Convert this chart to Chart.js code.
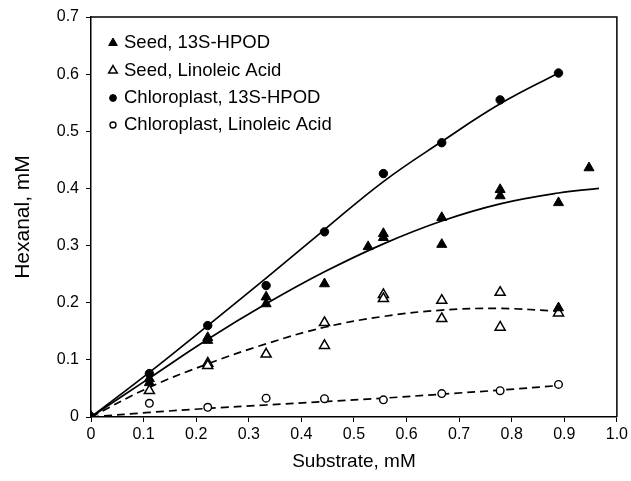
<!DOCTYPE html>
<html>
<head>
<meta charset="utf-8">
<script src="https://cdn.jsdelivr.net/npm/chart.js@4/dist/chart.umd.min.js"></script>
<style>
html,body{margin:0;padding:0;background:#fff;}
canvas{display:block;}
</style>
</head>
<body>
<canvas id="c" width="631" height="481"></canvas>
<script>
// ---- data ----
const seriesLabels = ["Seed, 13S-HPOD", "Seed, Linoleic Acid", "Chloroplast, 13S-HPOD", "Chloroplast, Linoleic Acid"];

const seedHpodX = [0, 0.111, 0.111, 0.222, 0.222, 0.333, 0.333, 0.444, 0.527, 0.556, 0.556, 0.667, 0.667, 0.778, 0.778, 0.889, 0.889, 0.947];
const seedHpodY = [0, 0.067, 0.060, 0.139, 0.134, 0.210, 0.198, 0.233, 0.298, 0.321, 0.314, 0.349, 0.302, 0.398, 0.387, 0.375, 0.191, 0.436];

const seedLaX = [0, 0.111, 0.222, 0.222, 0.333, 0.444, 0.444, 0.556, 0.556, 0.667, 0.667, 0.778, 0.778, 0.889];
const seedLaY = [0, 0.046, 0.094, 0.090, 0.110, 0.165, 0.125, 0.214, 0.207, 0.204, 0.172, 0.218, 0.157, 0.182];

const chloroHpodX = [0, 0.111, 0.222, 0.333, 0.444, 0.556, 0.667, 0.778, 0.889];
const chloroHpodY = [0, 0.076, 0.160, 0.230, 0.324, 0.426, 0.480, 0.555, 0.602];

const chloroLaX = [0, 0.111, 0.222, 0.333, 0.444, 0.556, 0.667, 0.778, 0.889];
const chloroLaY = [0, 0.024, 0.017, 0.033, 0.032, 0.030, 0.041, 0.046, 0.057];

// fitted curves
const chloroHpodFitX = [0, 0.111, 0.222, 0.333, 0.444, 0.556, 0.667, 0.778, 0.889];
const chloroHpodFitY = [0, 0.078, 0.160, 0.243, 0.328, 0.412, 0.482, 0.548, 0.602];

const seedHpodFitX = [0, 0.111, 0.222, 0.333, 0.444, 0.556, 0.667, 0.778, 0.889, 0.966];
const seedHpodFitY = [0, 0.068, 0.136, 0.198, 0.254, 0.303, 0.343, 0.373, 0.392, 0.400];

const seedLaFitX = [0, 0.111, 0.222, 0.333, 0.444, 0.556, 0.667, 0.778, 0.889];
const seedLaFitY = [0, 0.052, 0.093, 0.128, 0.157, 0.176, 0.187, 0.190, 0.185];

const chloroLaFitX = [0, 0.111, 0.222, 0.333, 0.444, 0.556, 0.667, 0.778, 0.889];
const chloroLaFitY = [0, 0.008, 0.015, 0.021, 0.027, 0.033, 0.040, 0.047, 0.055];

const xTicks = [0, 0.1, 0.2, 0.3, 0.4, 0.5, 0.6, 0.7, 0.8, 0.9, 1.0];
const yTicks = [0, 0.1, 0.2, 0.3, 0.4, 0.5, 0.6, 0.7];
const xTitle = "Substrate, mM";
const yTitle = "Hexanal, mM";

// ---- build ----
const zip = (xs, ys) => xs.map((x, i) => ({x: x, y: ys[i]}));
const FONT = "'Liberation Sans', Arial, Helvetica, sans-serif";

const markerStyles = [
  {pointStyle: 'triangle', radius: 5.8, fill: '#000', border: '#000', bw: 1},
  {pointStyle: 'triangle', radius: 5.8, fill: '#fff', border: '#000', bw: 1.5},
  {pointStyle: 'circle', radius: 4.2, fill: '#000', border: '#000', bw: 1},
  {pointStyle: 'circle', radius: 3.8, fill: '#fff', border: '#000', bw: 1.4}
];

function pts(idx, xs, ys) {
  const m = markerStyles[idx];
  return {
    type: 'scatter', label: seriesLabels[idx], data: zip(xs, ys),
    pointStyle: m.pointStyle, pointRadius: m.radius, pointBackgroundColor: m.fill,
    pointBorderColor: m.border, pointBorderWidth: m.bw, showLine: false, isMarker: true, mIdx: idx
  };
}
function fit(xs, ys, dashed) {
  return {
    type: 'line', data: zip(xs, ys), borderColor: '#000', borderWidth: 1.7,
    borderDash: dashed ? [8, 5] : [], pointRadius: 0, fill: false,
    tension: 0.4, isMarker: false
  };
}

const legendPlugin = {
  id: 'inLegend',
  afterDraw(chart) {
    const ctx = chart.ctx;
    const rows = [42, 69.5, 97, 124];
    ctx.save();
    ctx.font = '18.5px ' + FONT;
    ctx.fillStyle = '#000';
    ctx.textBaseline = 'middle';
    ctx.textAlign = 'left';
    chart.data.datasets.filter(d => d.isMarker).forEach(d => {
      const i = d.mIdx;
      const m = markerStyles[i];
      const y = rows[i];
      const x = 113;
      ctx.save();
      ctx.fillStyle = m.fill; ctx.strokeStyle = m.border; ctx.lineWidth = m.bw;
      Chart.helpers.drawPoint(ctx, {pointStyle: m.pointStyle, radius: m.pointStyle === 'circle' ? m.radius - 0.8 : m.radius - 0.8, rotation: 0, borderWidth: m.bw}, x, y + 1);
      ctx.restore();
      ctx.fillText(d.label, 124, y + 1);
    });
    ctx.restore();
  }
};
const framePlugin = {
  id: 'frame',
  afterDraw(chart) {
    const a = chart.chartArea, ctx = chart.ctx;
    ctx.save();
    ctx.strokeStyle = '#000'; ctx.lineWidth = 1.5;
    ctx.beginPath();
    ctx.moveTo(a.left, a.top); ctx.lineTo(a.right, a.top); ctx.lineTo(a.right, a.bottom);
    ctx.stroke();
    ctx.restore();
  }
};

const fmt = v => (Math.abs(v) < 1e-9 ? '0' : v.toFixed(1));

new Chart(document.getElementById('c'), {
  data: {
    datasets: [
      pts(0, seedHpodX, seedHpodY),
      pts(1, seedLaX, seedLaY),
      pts(2, chloroHpodX, chloroHpodY),
      pts(3, chloroLaX, chloroLaY),
      fit(chloroHpodFitX, chloroHpodFitY, false),
      fit(seedHpodFitX, seedHpodFitY, false),
      fit(seedLaFitX, seedLaFitY, true),
      fit(chloroLaFitX, chloroLaFitY, true)
    ]
  },
  options: {
    responsive: false, animation: false, devicePixelRatio: 1,
    layout: {padding: {top: 17, right: 14, bottom: 0, left: 0}},
    plugins: {legend: {display: false}, tooltip: {enabled: false}},
    scales: {
      x: {
        type: 'linear', min: 0, max: 1,
        afterBuildTicks: s => { s.ticks = xTicks.map(v => ({value: v})); },
        afterFit: s => { s.height = 64; },
        ticks: {callback: fmt, color: '#000', font: {family: FONT, size: 16}, padding: 3, maxRotation: 0, autoSkip: false},
        grid: {display: true, drawOnChartArea: false, drawTicks: true, tickLength: 5, color: '#000', lineWidth: 1},
        border: {display: true, color: '#000', width: 1.5},
        title: {display: true, text: xTitle, color: '#000', font: {family: FONT, size: 19}, padding: {top: 0, bottom: 8}}
      },
      y: {
        type: 'linear', min: 0, max: 0.7,
        afterBuildTicks: s => { s.ticks = yTicks.map(v => ({value: v})); },
        afterFit: s => { s.width = 91; },
        ticks: {callback: fmt, color: '#000', font: {family: FONT, size: 16}, padding: 7, autoSkip: false},
        grid: {display: true, drawOnChartArea: false, drawTicks: true, tickLength: 5, color: '#000', lineWidth: 1},
        border: {display: true, color: '#000', width: 1.5},
        title: {display: true, text: yTitle, color: '#000', font: {family: FONT, size: 21}, padding: {top: 11, bottom: 0}}
      }
    }
  },
  plugins: [legendPlugin, framePlugin]
});
</script>
</body>
</html>
